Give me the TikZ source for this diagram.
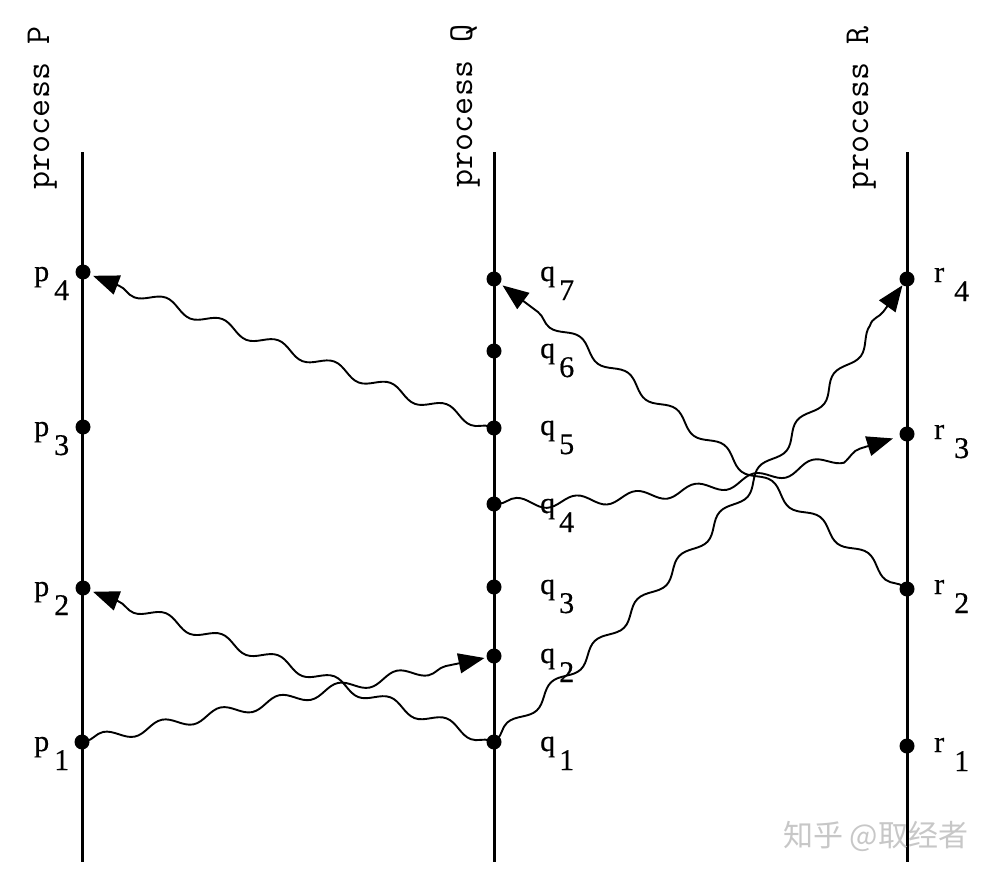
\documentclass[tikz,border=0pt]{standalone}
\usepackage{fontspec}
\setmainfont{Liberation Serif}
\newfontfamily\labfont[FakeBold=0.5]{Liberation Serif}
\newfontfamily\cjk{Noto Sans CJK SC}
\usetikzlibrary{decorations.pathmorphing,arrows.meta}
\newcommand\evlab[3]{#1\hspace{#3}\raisebox{-19pt}{#2}}
\begin{document}
\begin{tikzpicture}[x=1pt,y=-1pt,
  procline/.style={line width=3pt},
  ev/.style={circle,fill=black,inner sep=0pt,minimum size=15pt},
  lab/.style={font=\labfont\fontsize{30}{30}\selectfont,inner sep=0pt,anchor=base west},
  ptitle/.style={font=\ttfamily\fontsize{35}{35}\selectfont\addfontfeature{FakeBold=1.2},rotate=90,inner sep=0pt,anchor=base},
  msg/.style={line width=1.9pt,-{Triangle[length=26pt,width=20pt]},decorate,
    decoration={snake,segment length=60pt,amplitude=5.5pt,pre length=4pt,post length=18pt}}]
\useasboundingbox (0,0) rectangle (994,878);
% process lines
\draw[procline] (82,152) coordinate (Ptop) -- (82,862) coordinate (Pbot);
\draw[procline] (494,152) coordinate (Qtop) -- (494,862) coordinate (Qbot);
\draw[procline] (907,152) coordinate (Rtop) -- (907,862) coordinate (Rbot);
% titles
\node[ptitle] (tP) at (49,108) {process P};
\node[ptitle] (tQ) at (472,106) {process Q};
\node[ptitle] (tR) at (868,108) {process R};
% events
\node[ev] (p1) at (82,742) {};
\node[ev] (p2) at (83,588) {};
\node[ev] (p3) at (83,427) {};
\node[ev] (p4) at (83,272) {};
\node[ev] (q1) at (494,742) {};
\node[ev] (q2) at (494,656) {};
\node[ev] (q3) at (494,587) {};
\node[ev] (q4) at (494,504) {};
\node[ev] (q5) at (494,428) {};
\node[ev] (q6) at (494,351) {};
\node[ev] (q7) at (494,279) {};
\node[ev] (r1) at (907,746) {};
\node[ev] (r2) at (907,589) {};
\node[ev] (r3) at (907,434) {};
\node[ev] (r4) at (907,279) {};
% labels
\node[lab] (lp4) at (34,281) {\evlab{p}{4}{5pt}};
\node[lab] (lp3) at (34,436) {\evlab{p}{3}{5pt}};
\node[lab] (lp2) at (34,596) {\evlab{p}{2}{5pt}};
\node[lab] (lp1) at (34,751) {\evlab{p}{1}{5pt}};
\node[lab] (lq7) at (540,281) {\evlab{q}{7}{4pt}};
\node[lab] (lq6) at (540,358) {\evlab{q}{6}{4pt}};
\node[lab] (lq5) at (540,435) {\evlab{q}{5}{4pt}};
\node[lab] (lq4) at (540,513) {\evlab{q}{4}{4pt}};
\node[lab] (lq3) at (540,594) {\evlab{q}{3}{4pt}};
\node[lab] (lq2) at (540,663) {\evlab{q}{2}{4pt}};
\node[lab] (lq1) at (540,751) {\evlab{q}{1}{4pt}};
\node[lab] (lr4) at (934,282) {\evlab{r}{4}{10pt}};
\node[lab] (lr3) at (934,439) {\evlab{r}{3}{10pt}};
\node[lab] (lr2) at (934,594) {\evlab{r}{2}{10pt}};
\node[lab] (lr1) at (934,752) {\evlab{r}{1}{10pt}};
% messages
\draw[msg,shorten >=2pt] (p1.center) -- (q2);
\draw[msg,shorten >=3pt] (q1.center) -- (p2);
\draw[msg,shorten >=3pt] (q5.center) -- (p4);
\draw[msg,shorten >=0pt] (q1.center) to[bend right=6] (r4);
\draw[msg,shorten >=7pt] (q4.center) to[bend right=8] (r3);
\draw[msg,shorten >=3pt] (r2.center) -- (q7);
% watermark
\node[font=\cjk\fontsize{30}{30}\selectfont,text=black!22,anchor=west,inner sep=0pt] (wm) at (783,836) {知乎 @取经者};
\end{tikzpicture}
\end{document}
